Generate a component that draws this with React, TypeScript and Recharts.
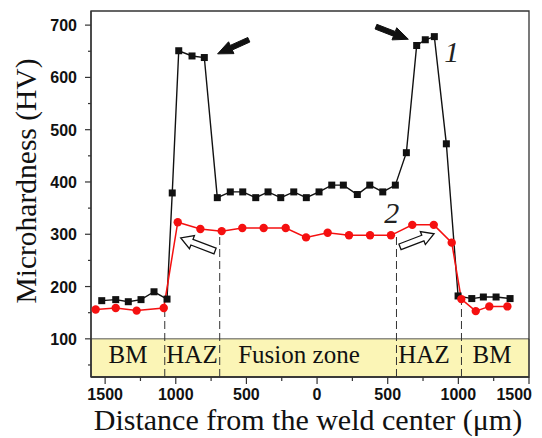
import React from 'react';
import { ComposedChart, Line, XAxis, YAxis, ReferenceArea, ReferenceLine, ReferenceDot } from 'recharts';

const blackX = [-1524,-1425,-1336,-1246,-1154,-1062,-1025,-979,-885,-798,-706,-614,-526,-434,-347,-257,-165,-76,14,104,186,285,373,465,554,632,705,766,830,915,998,1095,1177,1267,1366];
const blackY = [173,175,171,175,190,176,379,651,641,638,370,381,381,370,381,370,381,370,381,394,394,376,394,381,394,456,661,672,678,473,182,177,180,180,177];
const redX = [-1567,-1425,-1277,-1085,-986,-826,-675,-529,-378,-222,-78,75,226,375,523,674,826,953,1021,1123,1219,1347];
const redY = [156,159,154,159,323,310,306,312,312,312,294,303,298,298,298,318,318,284,176,153,162,162];

const xTicks = [-1500,-1250,-1000,-750,-500,-250,0,250,500,750,1000,1250,1500];
const yTicks = [50,100,150,200,250,300,350,400,450,500,550,600,650,700];

const zoneLabels = ['BM','HAZ','Fusion zone','HAZ','BM'];
const zoneCenters = [-1338,-885,-128,757,1238];
const zoneBounds = [-1078,-689,562,1022];
const zoneBoundTops = [160,306,298,176];

const solidArrows = [
  { from: [-483, 672], to: [-704, 645] },
  { from: [417, 697], to: [646, 673] },
];
const hollowArrows = [
  { from: [-722, 268], to: [-965, 293] },
  { from: [587, 276], to: [828, 301] },
];
const curveLabels = [
  { text: '1', x: 953, y: 629 },
  { text: '2', x: 528, y: 322 },
];

const blackData = blackX.map((x, i) => ({ x, y: blackY[i] }));
const redData = redX.map((x, i) => ({ x, y: redY[i] }));

const SERIF = '"Liberation Serif", "Times New Roman", serif';
const SANS = '"Liberation Sans", Arial, sans-serif';
const AXIS = '#333';

const XTick = (props: any) => {
  const { x, y, payload } = props;
  const v = payload.value;
  const major = v % 500 === 0;
  const last = v === 1500;
  return (
    <g>
      <line x1={x} x2={x} y1={y} y2={y + (major ? 7 : 4)} stroke={AXIS} strokeWidth={1.2} />
      {major && (
        <text
          x={last ? x + 3 : x}
          y={y + 23}
          textAnchor={last ? 'end' : 'middle'}
          fontFamily={SANS}
          fontWeight="bold"
          fontSize={16}
          fill="#111"
        >
          {Math.abs(v)}
        </text>
      )}
    </g>
  );
};

const YTick = (props: any) => {
  const { x, y, payload } = props;
  const v = payload.value;
  const major = v % 100 === 0;
  return (
    <g>
      <line x1={x} x2={x - (major ? 6 : 3)} y1={y} y2={y} stroke={AXIS} strokeWidth={1.2} />
      {major && (
        <text x={x - 14} y={y + 6} textAnchor="end" fontFamily={SANS} fontWeight="bold" fontSize={16} fill="#111">
          {v}
        </text>
      )}
    </g>
  );
};

const arrowShape = (hollow: boolean) => (p: any) => {
  const { x1, y1, x2, y2 } = p;
  const dx = x2 - x1, dy = y2 - y1;
  const L = Math.sqrt(dx * dx + dy * dy) || 1;
  const ux = dx / L, uy = dy / L;
  const nx = -uy, ny = ux;
  const sw = hollow ? 6 : 5;
  const hw = hollow ? 14 : 13;
  const hl = hollow ? 12 : 15;
  const cx = x2 - ux * hl, cy = y2 - uy * hl;
  const pts = [
    [x1 + nx * sw / 2, y1 + ny * sw / 2],
    [cx + nx * sw / 2, cy + ny * sw / 2],
    [cx + nx * hw / 2, cy + ny * hw / 2],
    [x2, y2],
    [cx - nx * hw / 2, cy - ny * hw / 2],
    [cx - nx * sw / 2, cy - ny * sw / 2],
    [x1 - nx * sw / 2, y1 - ny * sw / 2],
  ].map((q) => q.join(',')).join(' ');
  return (
    <polygon
      points={pts}
      fill={hollow ? '#fff' : '#111'}
      stroke="#111"
      strokeWidth={hollow ? 1.3 : 1}
      strokeLinejoin="miter"
    />
  );
};

const SquareDot = (props: any) => {
  const { cx, cy, index } = props;
  if (cx == null || cy == null) return <g key={`s${index}`} />;
  return <rect key={`s${index}`} x={cx - 3.5} y={cy - 3.5} width={7} height={7} fill="#111" />;
};

const CircleDot = (props: any) => {
  const { cx, cy, index } = props;
  if (cx == null || cy == null) return <g key={`c${index}`} />;
  return <circle key={`c${index}`} cx={cx} cy={cy} r={4.2} fill="#f51010" />;
};

export default function App() {
  return (
    <ComposedChart
      width={526}
      height={430}
      margin={{ top: 3, right: 5, left: 0, bottom: 0 }}
    >
      <XAxis
        type="number"
        dataKey="x"
        domain={[-1600, 1500]}
        ticks={xTicks}
        interval={0}
        allowDataOverflow
        height={61}
        tickLine={false}
        tickSize={0}
        tickMargin={0}
        tick={<XTick />}
        axisLine={{ stroke: AXIS, strokeWidth: 1.3 }}
        label={{
          content: () => (
            <text x={300} y={422} textAnchor="middle" fontFamily={SERIF} fontSize={30} fill="#111">
              Distance from the weld center (μm)
            </text>
          ),
        }}
      />
      <YAxis
        type="number"
        domain={[27, 727]}
        ticks={yTicks}
        interval={0}
        allowDataOverflow
        width={83}
        tickLine={false}
        tickSize={0}
        tickMargin={0}
        tick={<YTick />}
        axisLine={{ stroke: AXIS, strokeWidth: 1.3 }}
        label={{
          content: () => (
            <text
              x={28}
              y={173}
              transform="rotate(-90 28 173)"
              textAnchor="middle"
              fontFamily={SERIF}
              fontSize={29.5}
              fill="#111"
            >
              Microhardness (HV)
            </text>
          ),
        }}
      />
      <ReferenceArea x1={-1600} x2={1500} y1={27} y2={100} fill="#fbf5b6" fillOpacity={1} stroke="#555" strokeWidth={1} ifOverflow="extendDomain" />
      <ReferenceArea x1={-1600} x2={1500} y1={27} y2={727} fill="none" fillOpacity={0} stroke={AXIS} strokeWidth={1.3} />
      {zoneBounds.map((bx, i) => (
        <ReferenceLine
          key={`zb${i}`}
          segment={[{ x: bx, y: 27 }, { x: bx, y: zoneBoundTops[i] }]}
          stroke="#333"
          strokeWidth={1}
          strokeDasharray="8 4"
        />
      ))}
      {zoneLabels.map((t, i) => (
        <ReferenceDot
          key={`zl${i}`}
          x={zoneCenters[i]}
          y={54}
          r={0}
          shape={(p: any) => (
            <text x={p.cx} y={p.cy} textAnchor="middle" fontFamily={SERIF} fontSize={25} fill="#111">
              {t}
            </text>
          )}
        />
      ))}
      <Line
        data={blackData}
        dataKey="y"
        type="linear"
        stroke="#111"
        strokeWidth={1.4}
        dot={<SquareDot />}
        activeDot={false}
        isAnimationActive={false}
      />
      <Line
        data={redData}
        dataKey="y"
        type="linear"
        stroke="#f51010"
        strokeWidth={1.5}
        dot={<CircleDot />}
        activeDot={false}
        isAnimationActive={false}
      />
      {solidArrows.map((a, i) => (
        <ReferenceLine
          key={`sa${i}`}
          segment={[{ x: a.from[0], y: a.from[1] }, { x: a.to[0], y: a.to[1] }]}
          shape={arrowShape(false)}
        />
      ))}
      {hollowArrows.map((a, i) => (
        <ReferenceLine
          key={`ha${i}`}
          segment={[{ x: a.from[0], y: a.from[1] }, { x: a.to[0], y: a.to[1] }]}
          shape={arrowShape(true)}
        />
      ))}
      {curveLabels.map((c, i) => (
        <ReferenceDot
          key={`cl${i}`}
          x={c.x}
          y={c.y}
          r={0}
          shape={(p: any) => (
            <text x={p.cx} y={p.cy} textAnchor="middle" fontFamily={SERIF} fontStyle="italic" fontSize={30} fill="#222">
              {c.text}
            </text>
          )}
        />
      ))}
    </ComposedChart>
  );
}
